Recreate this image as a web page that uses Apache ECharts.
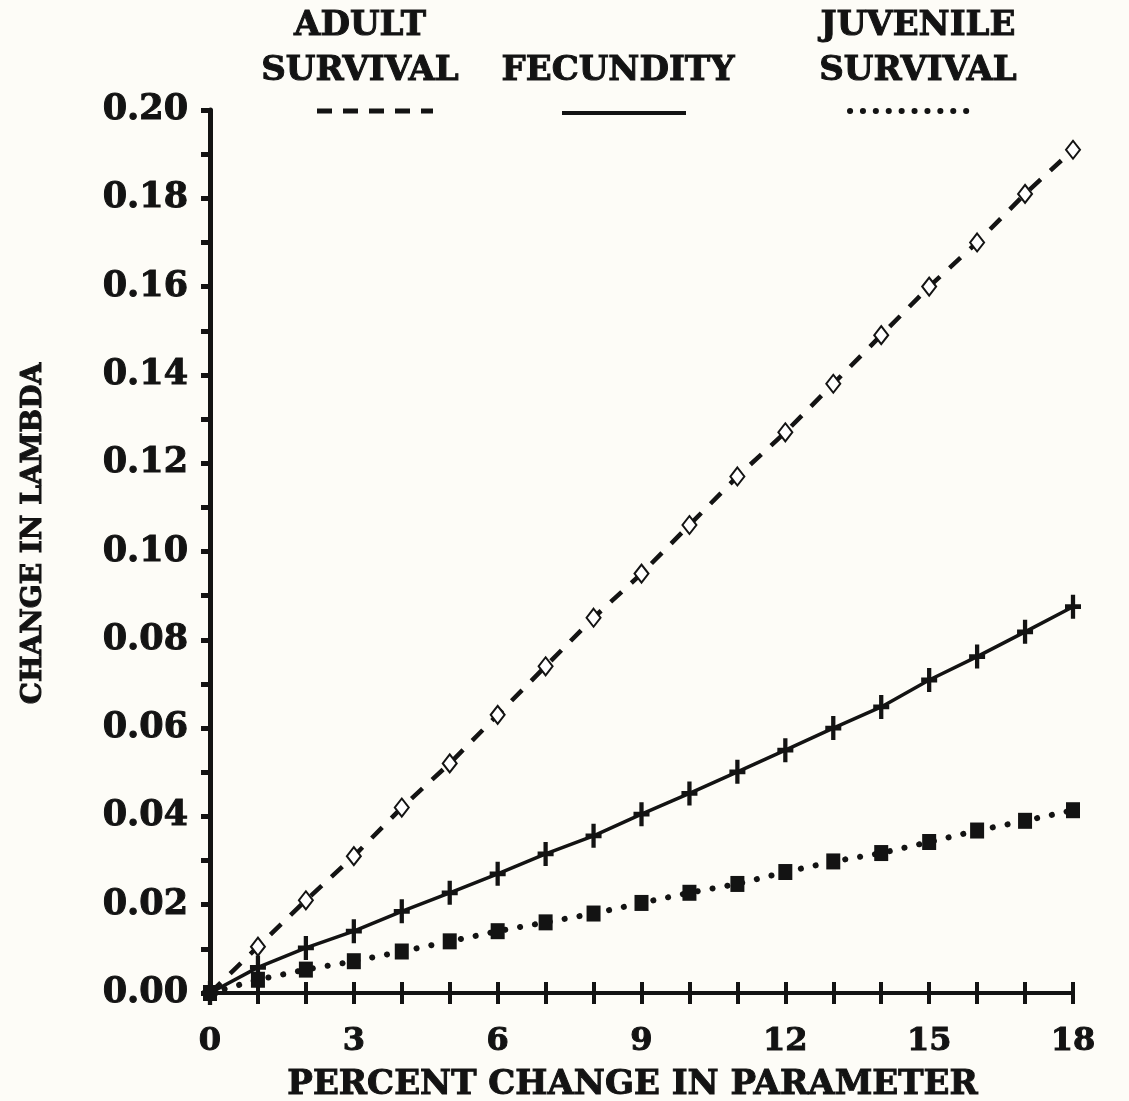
<!DOCTYPE html>
<html>
<head>
<meta charset="utf-8">
<title>Change in lambda vs percent change in parameter</title>
<script src="https://cdn.jsdelivr.net/npm/echarts@6/dist/echarts.min.js"></script>
<style>
  html, body { margin: 0; padding: 0; background: #fdfcf7; }
  #chart { width: 1129px; height: 1101px; }
</style>
</head>
<body>
<div id="chart"></div>
<script>
// Percent change applied to each demographic parameter
const percentChange = [0, 1, 2, 3, 4, 5, 6, 7, 8, 9, 10, 11, 12, 13, 14, 15, 16, 17, 18];

// Resulting change in lambda for each parameter
const adultSurvival = [0, 0.0105, 0.021, 0.031, 0.042, 0.052, 0.063, 0.074, 0.085, 0.095,
                       0.106, 0.117, 0.127, 0.138, 0.149, 0.160, 0.170, 0.181, 0.191];
const fecundity = [0, 0.0058, 0.0102, 0.014, 0.0185, 0.0227, 0.027, 0.0315, 0.0356, 0.0405,
                   0.0452, 0.0501, 0.055, 0.060, 0.0648, 0.0709, 0.0762, 0.0818, 0.0875];
const juvenileSurvival = [0, 0.003, 0.0053, 0.0072, 0.0094, 0.0117, 0.014, 0.016, 0.018, 0.0204,
                          0.0227, 0.0247, 0.0274, 0.0298, 0.0317, 0.0342, 0.0368, 0.039, 0.0414];

// Tick labels
const xTickLabels = ['0', '3', '6', '9', '12', '15', '18'];
const yTickLabels = ['0.00', '0.02', '0.04', '0.06', '0.08', '0.10', '0.12', '0.14', '0.16', '0.18', '0.20'];

// Legend entries (label lines above each line sample)
const legendLabels = [['ADULT', 'SURVIVAL'], ['FECUNDITY'], ['JUVENILE', 'SURVIVAL']];

const INK = '#131313';
const FONT = '"DejaVu Serif", "Liberation Serif", serif';

function textStyle(size) {
  return {
    color: INK, fontFamily: FONT, fontWeight: 'bold', fontSize: size,
    textBorderColor: INK, textBorderWidth: 1
  };
}

const pairs = ys => percentChange.map((x, i) => [x, ys[i]]);

// Filled plus sign used for the fecundity markers
const plusPath = 'path://M3.8,0 H6.2 V4 H9.5 V6 H6.2 V10 H3.8 V6 H0.5 V4 H3.8 Z';

const chart = echarts.init(document.getElementById('chart'), null, { renderer: 'canvas' });

const legendX = [360, 618, 918];
const graphic = [];
legendLabels.forEach((lines, k) => {
  const rows = lines.length === 2 ? [26, 71] : [71];
  lines.forEach((t, r) => {
    graphic.push({
      type: 'text', x: legendX[k], y: rows[r], z: 10,
      style: {
        text: t, align: 'center', verticalAlign: 'middle',
        fill: INK, font: 'bold 34px ' + FONT, stroke: INK, lineWidth: 1
      }
    });
  });
});
// Legend line samples
graphic.push({
  type: 'line', z: 10,
  shape: { x1: 317, y1: 111, x2: 433, y2: 111 },
  style: { stroke: INK, lineWidth: 5, lineDash: [15, 11] }
});
graphic.push({
  type: 'line', z: 10,
  shape: { x1: 562, y1: 113, x2: 686, y2: 113 },
  style: { stroke: INK, lineWidth: 4 }
});
graphic.push({
  type: 'line', z: 10,
  shape: { x1: 850, y1: 111, x2: 967, y2: 111 },
  style: { stroke: INK, lineWidth: 6, lineDash: [0.1, 12.8], lineCap: 'round' }
});

const option = {
  backgroundColor: '#fdfcf7',
  animation: false,
  grid: { left: 210, right: 56, top: 110, bottom: 108, containLabel: false, outerBoundsMode: 'none' },
  graphic: graphic,
  xAxis: [
    {
      type: 'value', min: 0, max: 18, interval: 1,
      name: 'PERCENT CHANGE IN PARAMETER', nameLocation: 'middle', nameGap: 92,
      nameTextStyle: Object.assign(textStyle(34), { verticalAlign: 'middle', padding: [0, 18, 0, 0] }),
      axisLine: { show: true, lineStyle: { color: INK, width: 4 } },
      axisTick: { show: true, inside: false, length: 11, lineStyle: { color: INK, width: 4 } },
      axisLabel: Object.assign(textStyle(32), {
        margin: 33,
        formatter: v => xTickLabels.includes(String(v)) ? String(v) : ''
      }),
      splitLine: { show: false }
    },
    {
      // upper half of the crossing tick marks
      type: 'value', min: 0, max: 18, interval: 1, position: 'bottom',
      axisLine: { show: false },
      axisTick: { show: true, inside: true, length: 11, lineStyle: { color: INK, width: 4 } },
      axisLabel: { show: false },
      splitLine: { show: false }
    }
  ],
  yAxis: {
    type: 'value', min: 0, max: 0.2, interval: 0.01,
    name: 'CHANGE IN LAMBDA', nameLocation: 'middle', nameGap: 162,
    nameTextStyle: Object.assign(textStyle(28), { padding: [0, 0, 0, 36] }),
    axisLine: { show: true, lineStyle: { color: INK, width: 5 } },
    axisTick: { show: true, inside: false, length: 9, lineStyle: { color: INK, width: 5 } },
    axisLabel: Object.assign(textStyle(35), {
      margin: 22,
      formatter: v => {
        const s = v.toFixed(2);
        return yTickLabels.includes(s) ? s : '';
      }
    }),
    splitLine: { show: false }
  },
  series: [
    {
      name: 'ADULT SURVIVAL', type: 'line', data: pairs(adultSurvival),
      symbol: 'emptyDiamond', symbolSize: [14, 18], showAllSymbol: true,
      itemStyle: { color: INK, borderColor: INK, borderWidth: 4 },
      lineStyle: { color: INK, width: 4.5, type: [15, 13] },
      z: 3
    },
    {
      name: 'FECUNDITY', type: 'line', data: pairs(fecundity),
      symbol: plusPath, symbolSize: [16, 24], symbolKeepAspect: false, showAllSymbol: true,
      itemStyle: { color: INK, borderWidth: 0 },
      lineStyle: { color: INK, width: 3.5 },
      z: 3
    },
    {
      name: 'JUVENILE SURVIVAL', type: 'line', data: pairs(juvenileSurvival),
      symbol: 'rect', symbolSize: [14, 16], showAllSymbol: true,
      itemStyle: { color: INK, borderWidth: 0 },
      lineStyle: { color: INK, width: 6, type: [0.1, 15], cap: 'round' },
      z: 3
    }
  ]
};

chart.setOption(option);
</script>
</body>
</html>
